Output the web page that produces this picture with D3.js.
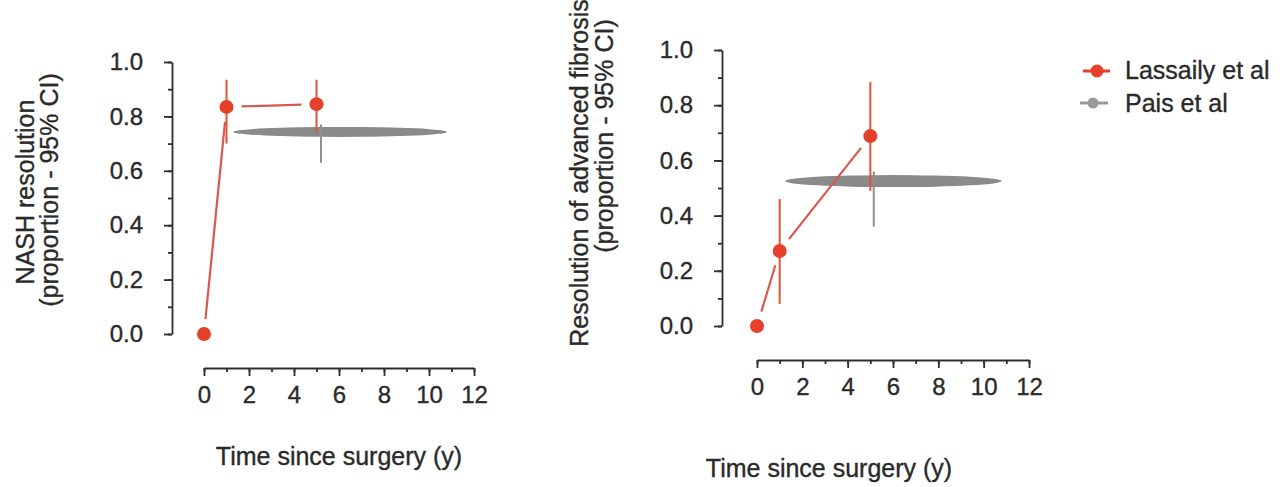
<!DOCTYPE html>
<html>
<head>
<meta charset="utf-8">
<script src="https://cdn.jsdelivr.net/npm/d3@7"></script>
<style>
	body { margin: 0; background: #fff; }
	text { font-family: "Liberation Sans", Arial, sans-serif; fill: #2a2a2a; stroke: #2a2a2a; stroke-width: 0.35px; }
</style>
</head>
<body>
<svg id="chart"></svg>
<script>
// values
const xTickValues = [0, 2, 4, 6, 8, 10, 12];
const yTickValues = [0, 0.2, 0.4, 0.6, 0.8, 1.0];
const seriesNames = ['Lassaily et al', 'Pais et al'];

// NASH resolution panel
const nashTime = [0, 1, 5];
const nashValue = [0, 0.835, 0.845];
const nashLow = [0, 0.70, 0.74];
const nashHigh = [0, 0.935, 0.935];
const nashPais = { time: 5.2, timeLow: 1.3, timeHigh: 10.8, value: 0.743, low: 0.63, high: 0.77 };

// advanced fibrosis panel
const fibTime = [0, 1, 5];
const fibValue = [0, 0.272, 0.688];
const fibLow = [0, 0.08, 0.49];
const fibHigh = [0, 0.46, 0.884];
const fibPais = { time: 5.15, timeLow: 1.24, timeHigh: 10.8, value: 0.525, low: 0.36, high: 0.56 };

const red = '#e4402a', redLine = '#d8584e', grey = '#8a8a8a';

const svg = d3.select('#chart').attr('width', 1282).attr('height', 487);

// layout for each panel (pixels)
let panels = [
	{
		time: nashTime, value: nashValue, low: nashLow, high: nashHigh, pais: nashPais,
		x0: 204, x1: 474, y0: 334, y1: 62, yAxisX: 172, xAxisY: 368, ry: 5,
		titles: [['NASH resolution', 34, 192], ['(proportion - 95% CI)', 58, 190]],
		xTitle: [339, 465]
	},
	{
		time: fibTime, value: fibValue, low: fibLow, high: fibHigh, pais: fibPais,
		x0: 757, x1: 1029, y0: 326, y1: 50, yAxisX: 722, xAxisY: 360, ry: 6,
		titles: [['Resolution of advanced fibrosis', 588, 173], ['(proportion - 95% CI)', 613, 136]],
		xTitle: [829, 477]
	}
];

panels.forEach(p => drawPanel(p));

function drawPanel(p) {
	const x = d3.scaleLinear().domain([0, 12]).range([p.x0, p.x1]);
	const y = d3.scaleLinear().domain([0, 1]).range([p.y0, p.y1]);
	const g = svg.append('g');

	// y axis: minor ticks every 0.1, labelled every 0.2
	g.append('g')
		.attr('transform', 'translate(' + p.yAxisX + ',0)')
		.call(d3.axisLeft(y).ticks(10).tickSize(4).tickSizeOuter(0).tickFormat(''))
		.call(a => a.select('.domain').remove());
	g.append('g')
		.attr('transform', 'translate(' + p.yAxisX + ',0)')
		.call(d3.axisLeft(y).tickValues(yTickValues).tickSize(8).tickSizeOuter(0)
			.tickPadding(21).tickFormat(d3.format('.1f')));

	// x axis: minor ticks every 1, labelled every 2
	g.append('g')
		.attr('transform', 'translate(0,' + p.xAxisY + ')')
		.call(d3.axisBottom(x).ticks(12).tickSize(4).tickSizeOuter(0).tickFormat(''))
		.call(a => a.select('.domain').remove());
	g.append('g')
		.attr('transform', 'translate(0,' + p.xAxisY + ')')
		.call(d3.axisBottom(x).tickValues(xTickValues).tickSize(8).tickSizeOuter(0).tickPadding(10));

	g.selectAll('.domain, .tick line').attr('stroke', '#2e2e2e').attr('stroke-width', 1.8);
	g.selectAll('.tick text').style('font-size', '24px').attr('fill', '#2a2a2a');

	// titles
	p.titles.forEach(t => {
		g.append('text')
			.attr('transform', 'translate(' + t[1] + ',' + t[2] + ') rotate(-90)')
			.attr('text-anchor', 'middle')
			.style('font-size', '25px')
			.text(t[0]);
	});
	g.append('text')
		.attr('x', p.xTitle[0]).attr('y', p.xTitle[1])
		.attr('text-anchor', 'middle')
		.style('font-size', '25px')
		.text('Time since surgery (y)');

	// Pais et al: time range as a flat ellipse, plus its CI
	const ps = p.pais;
	g.append('ellipse')
		.attr('cx', (x(ps.timeLow) + x(ps.timeHigh)) / 2)
		.attr('cy', y(ps.value))
		.attr('rx', (x(ps.timeHigh) - x(ps.timeLow)) / 2)
		.attr('ry', p.ry)
		.attr('fill', grey);
	g.append('line')
		.attr('x1', x(ps.time)).attr('x2', x(ps.time))
		.attr('y1', y(ps.low)).attr('y2', y(ps.high))
		.attr('stroke', '#8e8e8e').attr('stroke-width', 2);

	// Lassaily et al
	let pts = p.time.map((t, i) => [x(t), y(p.value[i]), i]);

	// connecting lines leave a gap around every point (like type="b")
	let gap = 15;
	for(let i = 0; i < pts.length - 1; i++) {
		let a = pts[i], b = pts[i + 1];
		let dx = b[0] - a[0], dy = b[1] - a[1];
		let len = Math.sqrt(dx * dx + dy * dy);
		if(len <= gap * 2) continue;
		let ux = dx / len, uy = dy / len;
		g.append('line')
			.attr('x1', a[0] + ux * gap).attr('y1', a[1] + uy * gap)
			.attr('x2', b[0] - ux * gap).attr('y2', b[1] - uy * gap)
			.attr('stroke', redLine).attr('stroke-width', 2.2);
	}

	g.selectAll('.ci')
		.data(pts.filter(d => p.high[d[2]] > p.low[d[2]]))
		.enter()
		.append('line')
		.attr('x1', d => d[0]).attr('x2', d => d[0])
		.attr('y1', d => y(p.low[d[2]])).attr('y2', d => y(p.high[d[2]]))
		.attr('stroke', '#e05436').attr('stroke-width', 2);

	g.selectAll('.pt')
		.data(pts)
		.enter()
		.append('circle')
		.attr('cx', d => d[0]).attr('cy', d => d[1])
		.attr('r', 7)
		.attr('fill', red);
}

// legend
let legend = svg.append('g');
let legendRows = [
	{ name: seriesNames[0], color: red, lx: [1083, 1110], cx: 1097, cy: 71, r: 6.5, ty: 79 },
	{ name: seriesNames[1], color: '#999', lx: [1080, 1108], cx: 1093, cy: 103, r: 5.5, ty: 112 }
];
legendRows.forEach(r => {
	legend.append('line')
		.attr('x1', r.lx[0]).attr('x2', r.lx[1])
		.attr('y1', r.cy).attr('y2', r.cy)
		.attr('stroke', r.color).attr('stroke-width', 3);
	legend.append('circle')
		.attr('cx', r.cx).attr('cy', r.cy).attr('r', r.r)
		.attr('fill', r.color);
	legend.append('text')
		.attr('x', 1125).attr('y', r.ty)
		.style('font-size', '25px')
		.text(r.name);
});
</script>
</body>
</html>
